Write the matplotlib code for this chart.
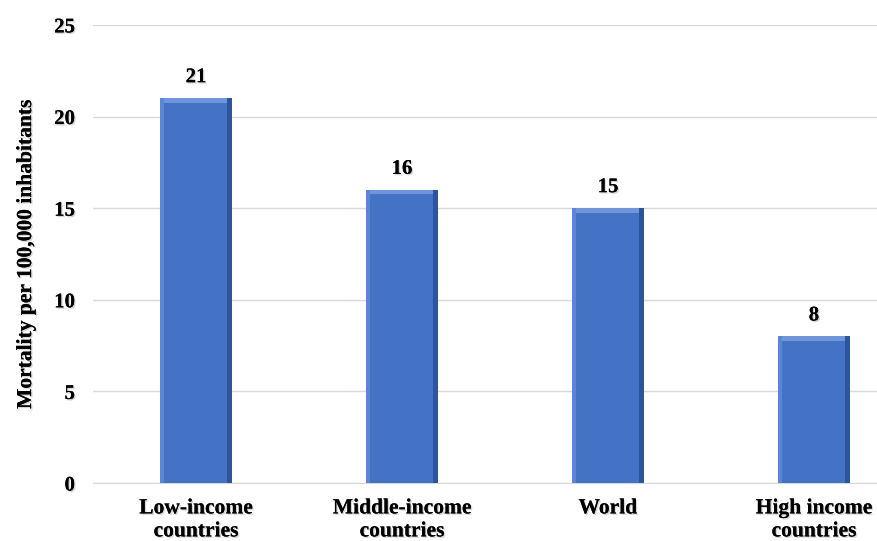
import matplotlib.pyplot as plt
import matplotlib.patheffects as pe
import numpy as np

categories = ["Low-income\ncountries", "Middle-income\ncountries", "World", "High income\ncountries"]
values = [21, 16, 15, 8]
yticks = [0, 5, 10, 15, 20, 25]

plt.rcParams['font.family'] = ['Liberation Serif', 'DejaVu Serif']
plt.rcParams['font.weight'] = 'bold'

fig = plt.figure(figsize=(8.77, 5.41), dpi=100)
ax = fig.add_axes([0.106, 0.107, 0.894, 0.847])

x = np.arange(len(values))
w = 0.35
shadow = [pe.withSimplePatchShadow(offset=(1, -1), shadow_rgbFace='#bbbbbb', alpha=0.6), pe.Normal()]

ax.bar(x, values, width=w, color='#4472C4', zorder=3)
# simple bevel look
bw = 0.022
bh = 0.25
for xi, v in zip(x, values):
    ax.bar(xi - w / 2 + bw / 2, v, width=bw, color='#5b86d4', zorder=4)
    ax.bar(xi + w / 2 - bw / 2, v, width=bw, color='#2f5597', zorder=4)
    ax.bar(xi, bh, bottom=v - bh, width=w - 2 * bw, color='#6f95da', zorder=4)
    ax.text(xi, v + 0.6, str(v), ha='center', va='bottom', fontsize=15,
            fontweight='bold', path_effects=shadow)

ax.set_ylim(0, 25)
ax.set_xlim(-0.5, 3.306)
ax.set_yticks(yticks)
ax.set_yticklabels([str(t) for t in yticks], fontsize=15, fontweight='bold')
for lab in ax.get_yticklabels():
    lab.set_path_effects(shadow)
ax.set_xticks(x)
ax.set_xticklabels(categories, fontsize=15.5, fontweight='bold')
for lab in ax.get_xticklabels():
    lab.set_path_effects(shadow)
ax.tick_params(length=0)
ax.tick_params(axis='y', pad=13)
ax.tick_params(axis='x', pad=11)

ax.grid(axis='y', color='#d9d9d9', linewidth=1, zorder=0)
for s in ['top', 'right', 'left']:
    ax.spines[s].set_visible(False)
ax.spines['bottom'].set_color('#d9d9d9')
ax.set_ylabel("Mortality per 100,000 inhabitants", fontsize=15.5, fontweight='bold', labelpad=13,
              path_effects=shadow)

fig.savefig('out.png', dpi=100)
